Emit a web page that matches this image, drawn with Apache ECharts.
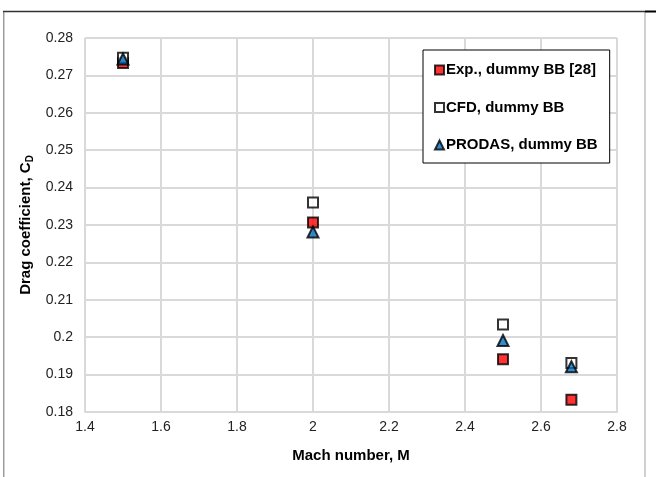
<!DOCTYPE html>
<html>
<head>
<meta charset="utf-8">
<script src="https://cdn.jsdelivr.net/npm/echarts@6/dist/echarts.min.js"></script>
<style>
  html, body { margin: 0; padding: 0; background: #fff; }
  #chart { width: 656px; height: 477px; }
</style>
</head>
<body>
<div id="chart"></div>
<script>
// Mach numbers of the test points
const mach = [1.5, 2.0, 2.5, 2.68];
// Drag coefficient per method
const expDummy = [0.2733, 0.2307, 0.1941, 0.1833];
const cfdDummy = [0.2747, 0.2360, 0.2034, 0.1931];
const prodasDummy = [0.2744, 0.2281, 0.1991, 0.1921];
// Axis ticks
const xTicks = [1.4, 1.6, 1.8, 2.0, 2.2, 2.4, 2.6, 2.8];
const yTicks = [0.18, 0.19, 0.20, 0.21, 0.22, 0.23, 0.24, 0.25, 0.26, 0.27, 0.28];

const pairs = ys => mach.map((m, i) => [m, ys[i]]);
const FONT = '"Liberation Sans", Arial, sans-serif';

const chart = echarts.init(document.getElementById('chart'), null, { renderer: 'canvas' });

chart.setOption({
  animation: false,
  backgroundColor: '#fff',
  textStyle: { fontFamily: FONT },
  grid: { left: 85, right: 39, top: 38, bottom: 65, containLabel: false },
  xAxis: {
    type: 'value',
    min: xTicks[0], max: xTicks[xTicks.length - 1], interval: 0.2,
    name: 'Mach number, M',
    nameLocation: 'middle', nameGap: 36,
    nameTextStyle: { fontFamily: FONT, fontWeight: 'bold', fontSize: 15, color: '#000' },
    axisLine: { show: true, lineStyle: { color: '#d9d9d9', width: 2 } },
    axisTick: { show: false },
    axisLabel: { fontFamily: FONT, fontSize: 14, color: '#222', margin: 8,
      formatter: v => String(+v.toFixed(1)) },
    splitLine: { show: true, lineStyle: { color: '#d9d9d9', width: 2 } }
  },
  yAxis: {
    type: 'value',
    min: yTicks[0], max: yTicks[yTicks.length - 1], interval: 0.01,
    name: 'Drag coefficient, C{sub|D}',
    nameLocation: 'middle', nameGap: 49,
    nameTextStyle: { fontFamily: FONT, fontWeight: 'bold', fontSize: 15, color: '#000',
      rich: { sub: { fontFamily: FONT, fontWeight: 'bold', fontSize: 10, color: '#000',
        verticalAlign: 'bottom', padding: [7, 0, 0, 0] } } },
    axisLine: { show: false },
    axisTick: { show: false },
    axisLabel: { fontFamily: FONT, fontSize: 14, color: '#222', margin: 12,
      formatter: v => String(+v.toFixed(2)) },
    splitLine: { show: true, lineStyle: { color: '#d9d9d9', width: 2 } }
  },
  legend: {
    orient: 'vertical',
    left: 423, top: 50,
    padding: [12, 12, 10, 11],
    itemGap: 21.5,
    itemWidth: 9, itemHeight: 9,
    backgroundColor: '#fff',
    borderColor: '#000', borderWidth: 1,
    textStyle: { fontFamily: FONT, fontWeight: 'bold', fontSize: 15, color: '#000', lineHeight: 16,
      padding: [0, 0, 0, -3] },
    data: ['Exp., dummy BB [28]', 'CFD, dummy BB', 'PRODAS, dummy BB']
  },
  series: [
    {
      name: 'Exp., dummy BB [28]', type: 'scatter', symbol: 'rect', symbolSize: 10,
      itemStyle: { color: '#ff0000', borderColor: '#000', borderWidth: 2 },
      data: pairs(expDummy), z: 2
    },
    {
      name: 'CFD, dummy BB', type: 'scatter', symbol: 'rect', symbolSize: 10,
      itemStyle: { color: '#ffffff', borderColor: '#000', borderWidth: 2 },
      data: pairs(cfdDummy), z: 3
    },
    {
      name: 'PRODAS, dummy BB', type: 'scatter', symbol: 'triangle', symbolSize: 11,
      itemStyle: { color: '#0070c0', borderColor: '#000', borderWidth: 2 },
      data: pairs(prodasDummy), z: 4
    }
  ],
  graphic: [
    // chart area frame
    { type: 'line', shape: { x1: 3.5, y1: 11.5, x2: 3.5, y2: 477 }, style: { stroke: '#9a9a9a', lineWidth: 1 }, silent: true },
    { type: 'line', shape: { x1: 4.5, y1: 12, x2: 4.5, y2: 477 }, style: { stroke: '#d0d0d0', lineWidth: 1 }, silent: true },
    { type: 'line', shape: { x1: 645, y1: 11.5, x2: 645, y2: 477 }, style: { stroke: '#d0d0d0', lineWidth: 2 }, silent: true },
    { type: 'line', shape: { x1: 3, y1: 11.5, x2: 645, y2: 11.5 }, style: { stroke: '#333', lineWidth: 1.5 }, silent: true },
    { type: 'line', shape: { x1: 645, y1: 11.5, x2: 656, y2: 11.5 }, style: { stroke: '#000', lineWidth: 2 }, silent: true }
  ]
});
</script>
</body>
</html>
